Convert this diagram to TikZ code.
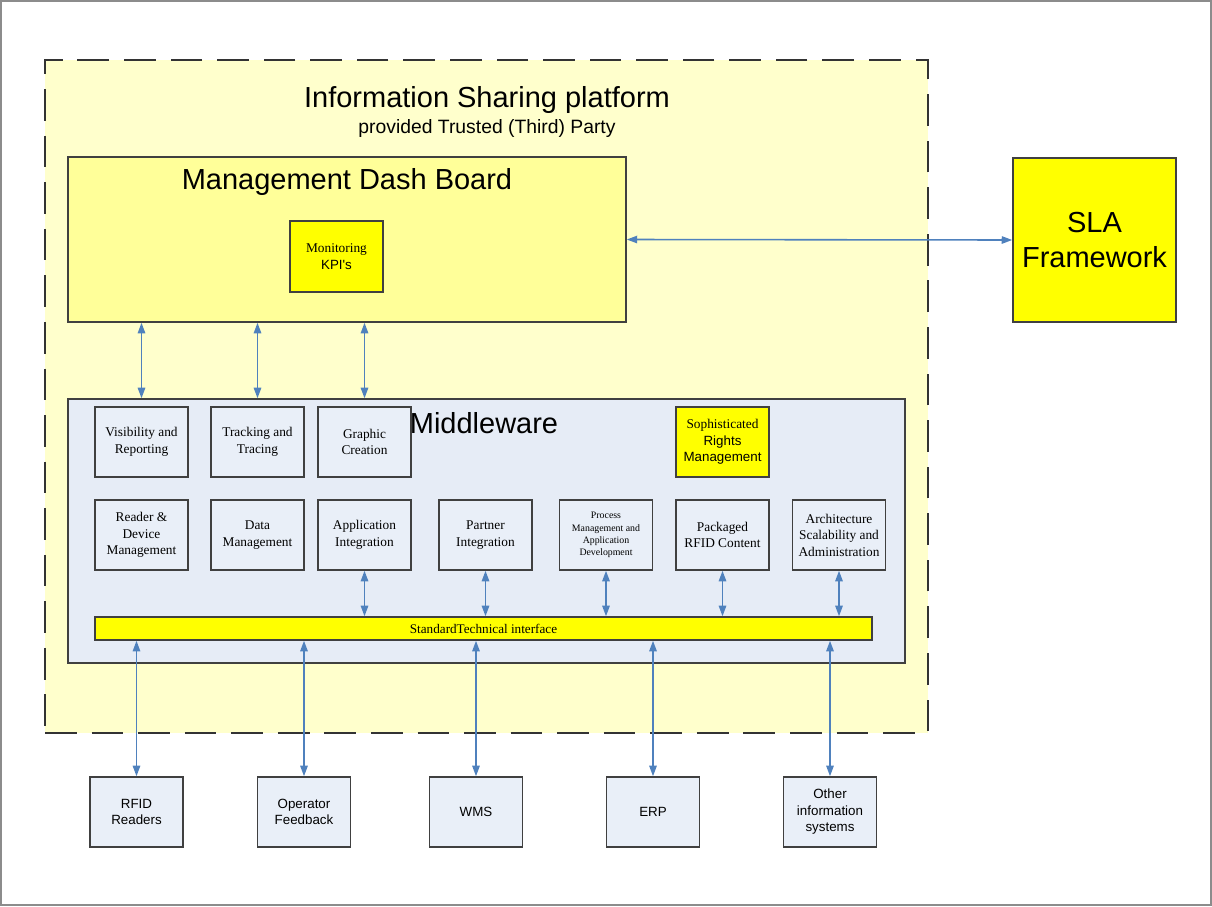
\documentclass[tikz,border=0pt]{standalone}
\usepackage{fontspec}
\setmainfont{Liberation Sans}
\newfontfamily\timesfont{Liberation Serif}
\newfontfamily\arialfont{Liberation Sans}
\usetikzlibrary{arrows.meta,positioning}
\definecolor{platformfill}{RGB}{255,255,204}
\definecolor{dashfill}{RGB}{255,255,153}
\definecolor{mwfill}{RGB}{230,236,246}
\definecolor{boxfill}{RGB}{233,239,248}
\definecolor{hilite}{RGB}{255,255,0}
\definecolor{arrowblue}{RGB}{79,129,189}
\definecolor{edgegray}{RGB}{64,64,64}
\definecolor{framegray}{RGB}{140,140,140}

\begin{document}
\begin{tikzpicture}[x=0.02cm,y=-0.02cm,
big/.style={font=\fontsize{16.5}{19}\selectfont},
mod/.style={draw=edgegray,line width=0.85pt,fill=boxfill,align=center,minimum width=1.86cm,minimum height=1.4cm,inner sep=1pt,font=\timesfont\fontsize{7.6}{9.4}\selectfont},
ext/.style={mod,font=\arialfont\fontsize{7.6}{9.4}\selectfont},
hot/.style={mod,fill=hilite},
arr/.style={<->,>={Triangle[length=6pt,width=4.2pt]},draw=arrowblue,line width=0.9pt}
]
\useasboundingbox (0,0) rectangle (1212,906);
\draw[framegray,line width=1.2pt] (1,1) rectangle (1211,905);

% trusted party platform
\node[draw=edgegray!80!black,line width=1.4pt,dash pattern=on 18pt off 8.5pt,fill=platformfill,
  minimum width=17.66cm,minimum height=13.46cm] (isp) at (486.5,396.5) {};
\node[big] (isptitle) at (487,100) {Information Sharing platform};
\node[font=\fontsize{11}{13}\selectfont] (ispsub) at (487,129) {provided Trusted (Third) Party};

% dashboard and SLA
\node[draw=edgegray,line width=0.85pt,fill=dashfill,minimum width=11.16cm,minimum height=3.3cm] (dash) at (347,239.5) {};
\node[big] (dashtitle) at (347,182) {Management Dash Board};
\node[hot,minimum height=1.42cm] (kpi) at (336.5,256.5) {Monitoring\\{\arialfont KPI's}};
\node[draw=edgegray,line width=0.85pt,fill=hilite,minimum width=3.26cm,minimum height=3.28cm,
  align=center,font=\fontsize{16.5}{20}\selectfont] (sla) at (1094.5,240) {SLA\\Framework};

% middleware
\node[draw=edgegray,line width=0.85pt,fill=mwfill,minimum width=16.74cm,minimum height=5.28cm] (mw) at (486.5,531) {};
\node[big] (mwtitle) at (484,423) {Middleware};

\node[mod] (vis) at (141.5,442) {Visibility and\\Reporting};
\node[mod] (trk) at (257.5,442) {Tracking and\\Tracing};
\node[mod] (gfx) at (364.5,442) {Graphic\\Creation};
\node[hot] (srm) at (722.5,442) {Sophisticated\\{\arialfont Rights}\\{\arialfont Management}};

\node[mod] (rdm) at (141.5,535) {Reader \&\\Device\\Management};
\node[mod] (dat) at (257.5,535) {Data\\Management};
\node[mod] (app) at (364.5,535) {Application\\Integration};
\node[mod] (prt) at (485.5,535) {Partner\\Integration};
\node[mod,font=\timesfont\fontsize{5.6}{7}\selectfont] (pmd) at (606,535) {Process\\Management and\\Application\\Development};
\node[mod] (pkg) at (722.5,535) {Packaged\\RFID Content};
\node[mod] (arc) at (839,535) {Architecture\\Scalability and\\Administration};

\node[draw=edgegray,line width=0.85pt,fill=hilite,minimum width=15.54cm,minimum height=0.46cm,inner sep=0pt,
  font=\timesfont\fontsize{7.5}{9}\selectfont] (bus) at (483.5,628.5) {StandardTechnical interface};

% outside systems
\node[ext] (rfid) at (136.5,812) {RFID\\Readers};
\node[ext] (opf) at (304,812) {Operator\\Feedback};
\node[ext] (wms) at (476,812) {WMS};
\node[ext] (erp) at (653,812) {ERP};
\node[ext] (ois) at (830,812) {Other\\information\\systems};

% links
\draw[arr] (dash.east) -- (sla.west);
\foreach \m in {vis,trk,gfx}
  \draw[arr] (dash.south -| \m) -- (mw.north -| \m);
\foreach \m in {app,prt,pmd,pkg,arc}
  \draw[arr] (\m.south) -- (\m.south |- bus.north);
\foreach \s in {rfid,opf,wms,erp,ois}
  \draw[arr] (bus.south -| \s) -- (\s.north);
\end{tikzpicture}
\end{document}
